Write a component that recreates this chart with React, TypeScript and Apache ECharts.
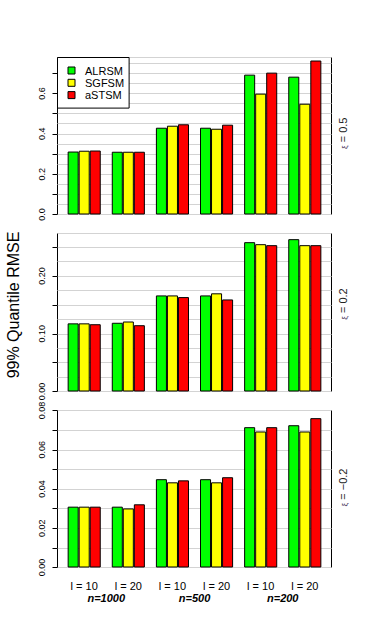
import React, { useEffect, useRef } from 'react';
import * as echarts from 'echarts';

const groups = ['l = 10', 'l = 20', 'l = 10', 'l = 20', 'l = 10', 'l = 20'];
const sampleSizes = ['n=1000', 'n=500', 'n=200'];
const methods = ['ALRSM', 'SGFSM', 'aSTSM'];
const methodColors = ['#00ff00', '#ffff00', '#ff0000'];
const xiValues = ['0.5', '0.2', '\u22120.2'];

const alrsmXi05 = [0.312, 0.311, 0.43, 0.43, 0.693, 0.683];
const sgfsmXi05 = [0.316, 0.311, 0.44, 0.425, 0.599, 0.549];
const astsmXi05 = [0.317, 0.311, 0.447, 0.445, 0.703, 0.763];

const alrsmXi02 = [0.118, 0.119, 0.1664, 0.1664, 0.2586, 0.2638];
const sgfsmXi02 = [0.118, 0.1212, 0.1664, 0.17, 0.2551, 0.2534];
const astsmXi02 = [0.1165, 0.1148, 0.1635, 0.1594, 0.2534, 0.2534];

const alrsmXim02 = [0.031, 0.031, 0.045, 0.045, 0.0715, 0.0725];
const sgfsmXim02 = [0.031, 0.0301, 0.0434, 0.0434, 0.0693, 0.0693];
const astsmXim02 = [0.031, 0.0322, 0.0444, 0.046, 0.0715, 0.0761];

const yMaxes = [0.778, 0.2736, 0.08];
const gridSteps = [0.05, 0.025, 0.01];
const tickValuesTop = [0, 0.1, 0.2, 0.3, 0.4, 0.5, 0.6, 0.7];
const labelValuesTop = [0, 0.2, 0.4, 0.6];
const tickValuesMid = [0, 0.05, 0.1, 0.15, 0.2, 0.25];
const labelValuesMid = [0, 0.1, 0.2];
const tickValuesBot = [0, 0.01, 0.02, 0.03, 0.04, 0.05, 0.06, 0.07, 0.08];
const labelValuesBot = [0, 0.02, 0.04, 0.06, 0.08];
const labelDecimals = [1, 2, 2];

const FONT = '"Liberation Sans", Arial, Helvetica, sans-serif';

export default function App() {
  const ref = useRef<HTMLDivElement>(null);

  useEffect(() => {
    document.body.style.margin = '0';
    if (!ref.current) return;
    const chart = echarts.init(ref.current, null, { renderer: 'svg' });

    const panelData = [
      [alrsmXi05, sgfsmXi05, astsmXi05],
      [alrsmXi02, sgfsmXi02, astsmXi02],
      [alrsmXim02, sgfsmXim02, astsmXim02],
    ];
    const tickVals = [tickValuesTop, tickValuesMid, tickValuesBot];
    const labelVals = [labelValuesTop, labelValuesMid, labelValuesBot];

    const boxLeft = 57.5;
    const boxWidth = 274;
    const unit = boxWidth / 24.84;
    const inset = 0.42 * unit;
    const tops = [57.5, 233.5, 410.5];
    const heights = [157, 158, 157];
    const xiCenters = [133.3, 304, 487.5];

    const grids: any[] = [];
    const xAxes: any[] = [];
    const yAxes: any[] = [];
    const series: any[] = [];

    // data grids 0..2
    for (let i = 0; i < 3; i++) {
      grids.push({
        left: boxLeft + inset,
        width: boxWidth - 2 * inset,
        top: tops[i],
        height: heights[i],
      });
    }
    // frame grids 3..5
    for (let i = 0; i < 3; i++) {
      grids.push({
        left: boxLeft,
        width: boxWidth,
        top: tops[i],
        height: heights[i],
        show: true,
        borderColor: '#000',
        borderWidth: 1,
        backgroundColor: 'transparent',
      });
    }

    for (let i = 0; i < 3; i++) {
      xAxes.push({
        type: 'category',
        gridIndex: i,
        data: groups,
        axisLine: { show: false },
        axisTick: { show: false },
        axisLabel: {
          show: i === 2,
          margin: 13,
          fontSize: 11,
          color: '#000',
          fontFamily: FONT,
        },
        splitLine: { show: false },
      });
    }
    for (let i = 0; i < 3; i++) {
      xAxes.push({ type: 'value', gridIndex: 3 + i, show: false, min: 0, max: 1 });
    }
    xAxes.push({
      type: 'category',
      gridIndex: 2,
      data: sampleSizes,
      position: 'bottom',
      axisLine: { show: false },
      axisTick: { show: false },
      axisLabel: {
        margin: 25,
        fontSize: 11,
        fontStyle: 'italic',
        fontWeight: 'bold',
        color: '#000',
        fontFamily: FONT,
      },
      splitLine: { show: false },
    });

    for (let i = 0; i < 3; i++) {
      const d = labelDecimals[i];
      yAxes.push({
        type: 'value',
        gridIndex: i,
        min: 0,
        max: yMaxes[i],
        offset: inset,
        axisLine: { show: false },
        splitLine: { show: false },
        axisTick: {
          show: true,
          length: 5,
          customValues: tickVals[i],
          lineStyle: { color: '#000', width: 1 },
        },
        axisLabel: {
          customValues: labelVals[i],
          rotate: 90,
          margin: 11,
          fontSize: 9,
          color: '#000',
          fontFamily: FONT,
          formatter: (v: number) => v.toFixed(d),
        },
      });
    }
    for (let i = 0; i < 3; i++) {
      yAxes.push({
        type: 'value',
        gridIndex: 3 + i,
        min: 0,
        max: yMaxes[i],
        interval: gridSteps[i],
        axisLine: { show: false },
        axisTick: { show: false },
        axisLabel: { show: false },
        splitLine: { show: true, lineStyle: { color: '#d3d3d3', width: 1 } },
      });
    }

    for (let p = 0; p < 3; p++) {
      for (let m = 0; m < 3; m++) {
        series.push({
          type: 'bar',
          name: methods[m],
          xAxisIndex: p,
          yAxisIndex: p,
          data: panelData[p][m],
          barGap: '0%',
          barCategoryGap: '25%',
          itemStyle: { color: methodColors[m], borderColor: '#000', borderWidth: 1 },
          emphasis: { disabled: true },
        });
      }
    }

    const graphics: any[] = [
      {
        type: 'text',
        x: 13,
        y: 305,
        rotation: Math.PI / 2,
        style: {
          text: '99% Quantile RMSE',
          fontSize: 16,
          fontFamily: FONT,
          fill: '#000',
          align: 'center',
          verticalAlign: 'middle',
        },
      },
    ];
    for (let i = 0; i < 3; i++) {
      graphics.push({
        type: 'text',
        x: 343,
        y: xiCenters[i],
        rotation: Math.PI / 2,
        style: {
          text: '{xi|\u03BE} = ' + xiValues[i],
          fontSize: 11,
          fontFamily: FONT,
          fill: '#222',
          align: 'center',
          verticalAlign: 'middle',
          rich: {
            xi: { fontSize: 8, fill: '#3c1f4f', fontFamily: FONT, padding: [3, 0, 0, 0] },
          },
        },
      });
    }

    chart.setOption({
      animation: false,
      backgroundColor: '#fff',
      grid: grids,
      xAxis: xAxes,
      yAxis: yAxes,
      series,
      legend: {
        data: methods,
        orient: 'vertical',
        left: boxLeft,
        top: tops[0],
        icon: 'rect',
        itemWidth: 7,
        itemHeight: 7,
        itemGap: 1.3,
        padding: [7.5, 5, 7.5, 10],
        borderColor: '#000',
        borderWidth: 1,
        borderRadius: 0,
        backgroundColor: '#fff',
        selectedMode: false,
        itemStyle: { borderColor: '#000', borderWidth: 1 },
        textStyle: { fontSize: 11, color: '#000', fontFamily: FONT, padding: [0, 0, 0, 5] },
      },
      graphic: graphics,
    });

    return () => chart.dispose();
  }, []);

  return (
    <div
      ref={ref}
      style={{ position: 'absolute', left: 0, top: 0, width: 380, height: 625 }}
    />
  );
}
